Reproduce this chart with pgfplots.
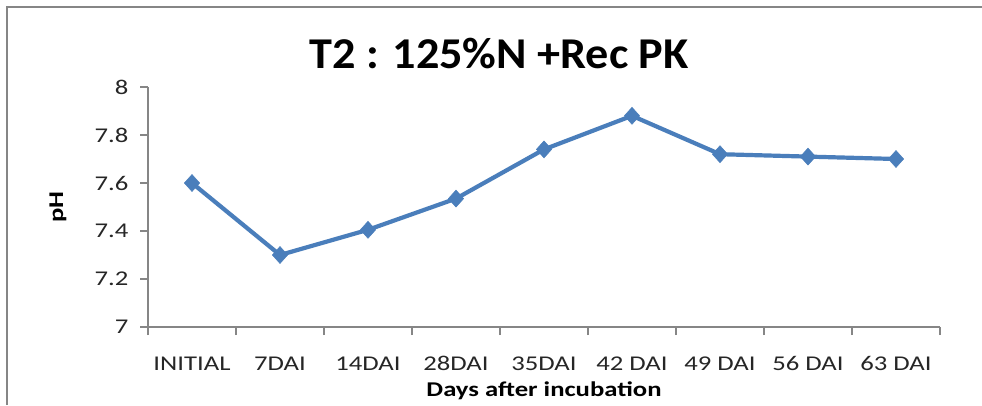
\documentclass[border=0pt]{standalone}
\usepackage{fontspec}
\setmainfont{Carlito}
\newfontfamily\tickfont[FakeStretch=1.27]{Carlito}
\newfontfamily\titlefont[FakeStretch=1.05]{Carlito}
\usepackage{pgfplots}
\pgfplotsset{compat=1.18}
\definecolor{phline}{RGB}{74,126,187}
\definecolor{axgray}{RGB}{134,134,134}

\begin{document}
\begin{tikzpicture}
\path[use as bounding box] (0pt,0pt) rectangle (982pt,405pt);
\fill[white] (0pt,0pt) rectangle (982pt,405pt);
\draw[axgray, line width=2pt] (7pt,0pt) -- (7pt,398pt) -- (982pt,398pt);
\begin{axis}[
  at={(148pt,78pt)}, anchor=south west,
  width=792pt, height=240pt, scale only axis,
  xmin=0, xmax=9, ymin=7, ymax=8,
  axis x line*=bottom, axis y line*=left,
  axis line style={axgray, line width=1.3pt, -},
  xtick={0.5,...,8.5},
  xticklabels={INITIAL,7DAI,14DAI,28DAI,35DAI,42 DAI,49 DAI,56 DAI,63 DAI},
  minor xtick={0,...,9},
  major x tick style={draw=none},
  minor x tick style={axgray, line width=1.3pt},
  ytick={7,7.2,...,8},
  y tick style={axgray, line width=1.3pt},
  tick align=outside,
  major tick length=8pt, minor tick length=8pt,
  /pgf/number format/assume math mode=true,
  /pgf/number format/fixed,
  tick label style={font=\tickfont\fontsize{21}{24}\selectfont, text=black!85},
  x tick label style={anchor=base, yshift=-35pt},
  y tick label style={xshift=-8pt},
  xlabel={\textbf{Days after incubation}},
  xlabel style={font=\tickfont\fontsize{21}{24}\selectfont,
    at={(axis description cs:0.5,0)}, anchor=center, yshift=-64pt},
  ylabel={\textbf{pH}},
  ylabel style={font=\tickfont\fontsize{21}{24}\selectfont,
    at={(axis description cs:-0.1136,0.5)}, anchor=center},
  clip=false,
]
\addplot[color=phline, line width=4.2pt, mark=diamond*, mark size=8.5pt,
  mark options={fill=phline, draw=phline, line width=0.5pt, xscale=1.2}] coordinates {
  (0.5,7.60) (1.5,7.30) (2.5,7.405) (3.5,7.535) (4.5,7.74)
  (5.5,7.88) (6.5,7.72) (7.5,7.71) (8.5,7.70)};
\end{axis}
\node[font=\titlefont\fontsize{44}{50}\bfseries] at (499pt,351pt) {T2 : 125\%N +Rec PK};
\end{tikzpicture}
\end{document}
